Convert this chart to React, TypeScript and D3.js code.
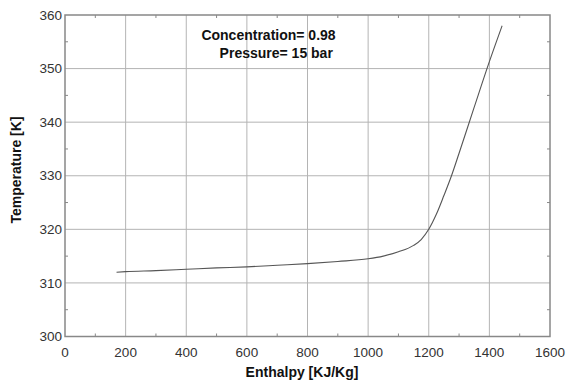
import React from "react";
import * as d3 from "d3";

// enthalpy [KJ/Kg] vs temperature [K]
const enthalpy = [170, 200, 300, 400, 500, 600, 700, 800, 900, 1000, 1050, 1100, 1150, 1175, 1200, 1225, 1250, 1275, 1300, 1350, 1400, 1442];
const temperature = [312.0, 312.1, 312.3, 312.55, 312.8, 313.0, 313.3, 313.6, 314.0, 314.5, 315.0, 315.8, 317.0, 318.1, 320.0, 322.8, 326.3, 330.0, 334.2, 342.8, 351.3, 358.0];

const xTicks = [0, 200, 400, 600, 800, 1000, 1200, 1400, 1600];
const yTicks = [300, 310, 320, 330, 340, 350, 360];
const xMinor = [100, 300, 500, 700, 900, 1100, 1300, 1500];
const yMinor = [305, 315, 325, 335, 345, 355];

const notes = ["Concentration= 0.98", "Pressure= 15 bar"];

const W = 567;
const H = 380;
const margin = { top: 15, right: 17, bottom: 43.5, left: 65 };

const App = () => {
  const width = W - margin.left - margin.right;
  const height = H - margin.top - margin.bottom;

  const x = d3.scaleLinear().domain([0, 1600]).range([0, width]);
  const y = d3.scaleLinear().domain([300, 360]).range([height, 0]);

  const points = enthalpy.map((h, i) => [h, temperature[i]] as [number, number]);
  const line = d3
    .line<[number, number]>()
    .x((d) => x(d[0]))
    .y((d) => y(d[1]))
    .curve(d3.curveMonotoneX);

  const font = "'Liberation Sans', Arial, sans-serif";

  return (
    <svg
      width={W}
      height={H}
      style={{ position: "absolute", left: 0, top: 0, background: "#fff" }}
      fontFamily={font}
    >
      <g transform={`translate(${margin.left},${margin.top})`}>
        {/* grid */}
        {xTicks.slice(1, -1).map((t) => (
          <line key={"gx" + t} x1={x(t)} x2={x(t)} y1={0} y2={height} stroke="#b4b4b4" strokeWidth={1} />
        ))}
        {yTicks.slice(1, -1).map((t) => (
          <line key={"gy" + t} x1={0} x2={width} y1={y(t)} y2={y(t)} stroke="#b4b4b4" strokeWidth={1} />
        ))}

        {/* minor ticks, inward on all four sides */}
        {xMinor.map((t) => (
          <g key={"mx" + t} stroke="#888">
            <line x1={x(t)} x2={x(t)} y1={height} y2={height - 3} />
            <line x1={x(t)} x2={x(t)} y1={0} y2={3} />
          </g>
        ))}
        {yMinor.map((t) => (
          <g key={"my" + t} stroke="#888">
            <line x1={0} x2={3} y1={y(t)} y2={y(t)} />
            <line x1={width} x2={width - 3} y1={y(t)} y2={y(t)} />
          </g>
        ))}

        {/* frame */}
        <rect x={0} y={0} width={width} height={height} fill="none" stroke="#888" strokeWidth={1.5} />

        {/* curve */}
        <path d={line(points) || ""} fill="none" stroke="#555" strokeWidth={1.1} />

        {/* tick labels */}
        {xTicks.map((t) => (
          <text key={"tx" + t} x={x(t)} y={height + 20} textAnchor="middle" fontSize={13.5} fill="#333">
            {t}
          </text>
        ))}
        {yTicks.map((t) => (
          <text key={"ty" + t} x={-3} y={y(t)} dy="0.35em" textAnchor="end" fontSize={13.5} fill="#333">
            {t}
          </text>
        ))}

        {/* annotation */}
        <text x={x(450)} y={25} fontSize={14} fontWeight="bold" fill="#111">
          {notes[0]}
        </text>
        <text x={x(510)} y={43} fontSize={14} fontWeight="bold" fill="#111">
          {notes[1]}
        </text>
      </g>

      {/* axis titles */}
      <text x={302} y={377} textAnchor="middle" fontSize={14} fontWeight="bold" fill="#111">
        Enthalpy [KJ/Kg]
      </text>
      <text
        transform={`translate(21,170) rotate(-90)`}
        textAnchor="middle"
        fontSize={14}
        fontWeight="bold"
        fill="#111"
      >
        Temperature [K]
      </text>
    </svg>
  );
};

export default App;
